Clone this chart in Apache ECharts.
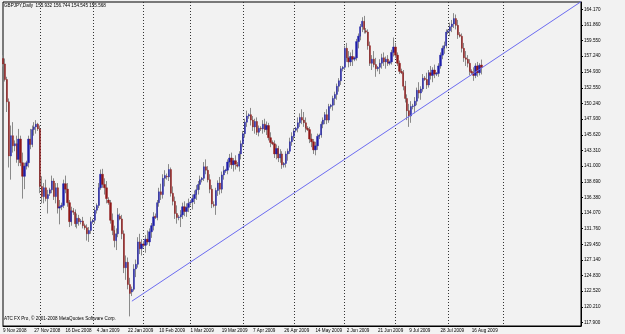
<!DOCTYPE html>
<html><head><meta charset="utf-8">
<script src="https://cdn.jsdelivr.net/npm/echarts@6/dist/echarts.min.js"></script>
<style>html,body{margin:0;padding:0;background:#f2f2f2}#c{width:625px;height:334px}</style>
</head><body><div id="c"></div><script>
// ---- texts ----
const headerText = 'GBPJPY,Daily  155.932 156.744 154.545 155.568';
const footerText = 'ATC FX Pro, \u00a9 2001-2008 MetaQuotes Software Corp.';
const tickLabels = ['9 Nov 2008','27 Nov 2008','16 Dec 2008','4 Jan 2009','22 Jan 2009','10 Feb 2009','1 Mar 2009','19 Mar 2009','7 Apr 2009','26 Apr 2009','14 May 2009','2 Jun 2009','21 Jun 2009','9 Jul 2009','28 Jul 2009','16 Aug 2009'];
const priceLabels = ['117.900','120.210','122.520','124.830','127.140','129.450','131.760','134.070','136.380','138.690','141.000','143.310','145.620','147.930','150.240','152.550','154.930','157.240','159.550','161.860','164.170'];
const lastPrice = 155.568;
// trend line anchors [date, price]
const trendStart = ['25 Jan 2009', 121.05];
const trendEnd = ['11 Oct 2009', 165.3];
// ---- daily bars [open, high, low, close], Sun-Fri sessions ----
const nov08 = [[156.9,157.4,155.7,156.1],[156.1,156.9,153.5,153.8],[153.8,154.2,149.0,150.5],[150.5,151.0,140.8,142.5],[142.5,147.0,139.0,145.5],[145.5,147.5,143.0,144.0],[144.0,144.8,143.2,144.3],[144.3,145.5,141.5,142.0],[142.0,146.5,141.0,145.0],[145.0,145.5,141.0,141.5],[141.5,143.0,136.2,139.5],[139.5,141.5,137.6,141.0],[141.0,141.8,140.5,141.5],[141.5,145.5,140.8,145.0],[145.0,146.5,143.5,144.2],[144.2,147.0,143.8,146.4],[146.4,147.5,145.5,146.8],[146.8,147.8,145.8,147.2],[147.2,147.4,146.2,146.5]];
const dec08 = [[146.5,147.0,137.0,138.0],[138.0,139.5,135.5,136.5],[136.5,138.5,135.5,137.8],[137.8,139.0,135.8,136.2],[136.2,137.5,134.0,136.8],[137.0,137.8,136.6,137.5],[137.5,139.6,137.0,138.8],[138.8,139.2,136.0,136.5],[136.5,138.5,135.5,137.8],[137.8,138.5,134.0,134.8],[134.8,136.0,132.4,135.0],[135.0,135.6,134.5,135.2],[135.2,139.0,134.8,138.4],[138.4,139.6,137.0,137.6],[137.6,138.5,135.0,135.6],[135.6,136.0,132.0,132.8],[132.8,135.0,132.2,134.4],[134.4,134.8,133.8,134.2],[134.2,134.6,132.0,132.5],[132.5,134.0,131.8,133.3],[133.3,133.8,132.2,132.8],[132.8,133.2,132.4,132.9],[132.9,133.5,131.8,132.2],[132.2,132.5,131.6,131.9],[131.9,132.4,130.0,131.0],[131.0,132.0,129.8,131.5],[131.5,133.5,131.0,132.8]];
const jan09 = [[132.8,133.2,132.5,133.0],[133.0,135.0,132.5,134.5],[134.5,135.5,134.0,135.2],[135.2,138.5,134.8,137.8],[137.8,140.5,137.5,139.8],[139.8,140.6,137.8,138.3],[138.3,139.2,136.8,137.8],[137.8,138.8,135.5,136.2],[136.0,136.4,135.3,135.6],[135.6,136.0,132.5,133.0],[133.0,134.0,130.8,131.5],[131.5,132.2,129.0,130.0],[130.0,131.8,128.6,131.0],[131.0,134.8,130.5,133.8],[133.6,134.0,133.0,133.2],[133.2,133.8,130.2,131.0],[131.0,131.5,125.2,126.0],[126.0,127.8,124.2,126.8],[126.8,127.5,122.8,123.5],[123.5,124.5,118.8,122.2],[122.4,123.2,121.8,122.8],[122.8,126.5,122.5,125.8],[125.8,127.2,124.6,126.5],[126.5,130.5,126.0,129.8],[129.8,131.0,128.0,128.8],[128.8,130.2,127.8,129.5]];
const feb09 = [[129.5,129.9,129.0,129.3],[129.3,130.8,128.2,130.2],[130.2,131.5,129.4,129.8],[129.8,131.8,129.2,131.3],[131.3,132.6,130.4,132.2],[132.2,134.2,131.5,133.5],[133.6,134.0,133.2,133.4],[133.4,136.0,133.0,135.6],[135.6,137.8,135.0,137.2],[137.2,138.4,136.0,136.8],[136.8,139.8,136.2,139.2],[139.2,140.4,138.0,139.6],[139.5,139.9,139.0,139.4],[139.4,141.3,138.8,140.5],[140.5,140.8,136.5,137.0],[137.0,138.0,135.2,135.8],[135.8,136.5,133.2,134.0],[134.0,135.2,132.5,133.4],[133.4,133.8,133.0,133.5],[133.5,134.5,132.0,133.8],[133.8,135.6,133.2,135.0],[135.0,135.8,133.6,134.3],[134.3,135.5,133.5,134.9],[134.9,136.2,134.2,135.5]];
const mar09 = [[135.6,136.0,135.2,135.7],[135.7,136.8,134.6,136.2],[136.2,137.4,135.4,136.8],[136.8,138.2,136.0,137.5],[137.5,138.8,136.8,138.3],[138.3,139.6,137.5,139.0],[139.0,139.4,138.6,139.2],[139.2,141.6,138.8,140.9],[140.9,142.0,139.8,140.4],[140.4,141.0,138.6,139.0],[139.0,139.8,137.0,137.6],[137.6,138.2,134.8,135.4],[135.3,135.8,134.9,135.2],[135.2,137.8,133.8,137.4],[137.4,138.9,136.6,138.5],[138.5,139.4,136.8,137.6],[137.6,140.2,137.0,139.7],[139.7,141.0,139.0,140.3],[140.3,140.6,140.0,140.4],[140.4,142.0,139.8,141.6],[141.6,142.8,140.8,142.2],[142.2,143.0,140.6,141.2],[141.2,142.2,140.2,141.8],[141.8,142.6,140.5,141.3],[141.2,141.6,140.8,141.0],[141.0,143.2,140.2,142.8],[142.8,144.8,142.0,144.3]];
const apr09 = [[144.3,146.2,143.8,145.8],[145.8,148.0,145.2,147.5],[147.5,149.2,146.8,148.4],[148.4,148.8,148.0,148.6],[148.6,149.6,147.0,147.8],[147.8,148.4,146.2,146.8],[146.8,148.0,145.8,147.6],[147.6,148.2,145.6,146.0],[146.0,147.0,145.4,146.6],[146.6,146.9,146.2,146.5],[146.5,147.8,145.8,147.2],[147.2,148.0,146.0,146.4],[146.4,147.6,145.6,147.0],[147.0,147.4,144.8,145.2],[145.2,146.0,143.8,144.5],[144.5,144.8,144.1,144.3],[144.3,144.8,142.2,142.8],[142.8,144.2,142.0,143.6],[143.6,144.0,141.6,142.2],[142.2,143.5,141.5,142.8],[142.8,143.2,140.6,141.2],[141.2,141.6,140.8,141.4],[141.4,143.2,140.8,142.8],[142.8,143.6,141.8,143.2],[143.2,145.2,142.8,144.6],[144.6,146.0,144.0,145.4]];
const may09 = [[145.4,146.6,144.8,146.2],[146.3,146.8,146.0,146.6],[146.6,148.2,146.0,147.4],[147.4,148.8,146.8,148.2],[148.2,149.4,147.2,147.8],[147.8,149.0,146.8,147.4],[147.4,148.2,146.0,146.6],[146.6,146.9,146.2,146.4],[146.4,146.8,144.4,145.0],[145.0,145.8,143.8,144.6],[144.6,145.0,142.8,143.4],[143.4,144.6,142.6,144.0],[144.0,145.8,143.4,145.4],[145.4,145.8,145.0,145.6],[145.6,147.6,145.2,147.2],[147.2,148.2,146.6,147.8],[147.8,149.0,147.2,148.6],[148.6,149.4,147.2,147.8],[147.8,150.2,147.4,149.8],[149.8,150.2,149.5,150.0],[150.0,151.4,149.2,151.0],[151.0,152.0,150.0,151.6],[151.6,153.2,150.8,152.8],[152.8,154.0,152.0,153.6],[153.6,155.8,153.0,155.4],[155.4,155.8,155.0,155.6]];
const jun09 = [[155.6,158.8,155.2,158.4],[158.4,159.2,156.4,157.0],[157.0,158.0,155.6,156.4],[156.4,157.8,155.8,157.2],[157.2,158.2,155.8,156.8],[156.8,157.2,156.5,157.0],[157.0,159.8,156.6,159.4],[159.4,160.6,158.4,160.2],[160.2,162.0,159.6,161.6],[161.6,163.0,160.8,162.4],[162.4,163.2,160.6,161.2],[161.0,161.4,160.6,160.8],[160.8,161.2,158.2,158.8],[158.8,159.4,155.8,156.2],[156.2,157.4,155.2,156.8],[156.8,158.0,155.6,156.0],[156.0,157.0,154.2,155.4],[155.4,155.8,155.0,155.6],[155.6,156.8,154.6,156.2],[156.2,157.6,155.4,157.0],[157.0,157.8,155.8,156.4],[156.4,157.2,155.4,156.8],[156.8,157.4,155.8,156.2],[156.2,156.6,155.9,156.4],[156.4,158.2,156.0,157.8],[157.8,160.0,157.2,158.6]];
const jul09 = [[158.6,159.2,157.0,157.4],[157.4,157.8,155.8,156.2],[156.2,156.6,154.6,155.0],[155.0,155.4,154.6,154.8],[154.8,155.2,152.2,152.8],[152.8,153.6,150.4,151.0],[151.0,151.6,147.8,149.2],[149.2,150.2,146.8,148.4],[148.4,150.6,147.4,149.8],[149.8,150.2,149.4,149.9],[149.9,151.2,148.8,150.6],[150.6,152.6,150.0,152.2],[152.2,153.4,151.0,151.8],[151.8,152.8,150.8,152.4],[152.4,154.6,152.0,154.0],[154.0,154.3,153.6,153.8],[153.8,154.8,152.4,153.0],[153.0,155.2,152.6,154.8],[154.8,155.8,153.8,154.4],[154.4,155.6,153.4,155.2],[155.2,156.0,154.0,154.6],[154.6,154.9,154.3,154.7],[154.7,156.2,154.2,155.8],[155.8,157.8,155.4,157.4],[157.4,158.8,156.8,158.4],[158.4,159.4,157.6,158.8],[158.8,161.2,158.4,160.8]];
const aug09 = [[160.8,161.2,160.5,161.0],[161.0,162.2,160.2,161.6],[161.6,162.6,160.8,162.0],[162.0,163.6,161.4,162.8],[162.8,163.4,161.2,161.8],[161.8,162.6,159.8,160.4],[160.4,160.8,160.0,160.2],[160.2,160.6,157.8,158.4],[158.4,159.2,156.4,157.0],[157.0,158.0,155.8,156.8],[156.8,157.4,155.6,156.2],[156.2,156.8,154.4,155.0],[155.0,155.3,154.6,154.8],[154.8,155.6,153.6,154.4],[154.4,156.2,154.0,155.8],[155.8,156.4,154.2,154.8],[154.8,156.2,154.4,155.9],[155.932,156.744,154.545,155.568]];

// ---- build ----
const MONTHS = ['Jan','Feb','Mar','Apr','May','Jun','Jul','Aug','Sep','Oct','Nov','Dec'];
const fmtDate = t => { const d = new Date(t); return d.getUTCDate() + ' ' + MONTHS[d.getUTCMonth()] + ' ' + d.getUTCFullYear(); };
const bars = [].concat(nov08, dec08, jan09, feb09, mar09, apr09, may09, jun09, jul09, aug09);
const VISIBLE = 297;
const FUTURE_SEPARATORS = 1;
const cats = [], catMonth = [];
let t = Date.UTC(2008, 10, 9);
while (cats.length < VISIBLE) {
  const d = new Date(t);
  if (cats.length >= bars.length || d.getUTCDay() !== 6) { cats.push(fmtDate(t)); catMonth.push(d.getUTCMonth()); }
  t += 86400000;
}
const sepIdx = [];
let futureSeen = 0;
for (let i = 1; i < cats.length; i++) {
  if (catMonth[i] !== catMonth[i - 1]) {
    if (i >= bars.length) { if (futureSeen >= FUTURE_SEPARATORS) continue; futureSeen++; }
    sepIdx.push(i);
  }
}
const wickData = bars.map(r => [r[0], r[3], r[2], r[1]]);
const bodyData = bars.map(r => [r[0], r[3], Math.min(r[0], r[3]), Math.max(r[0], r[3])]);

const FONT = 'Liberation Sans';
const chart = echarts.init(document.getElementById('c'), null, {renderer: 'canvas'});
chart.setOption({
  animation: false,
  backgroundColor: '#f2f2f2',
  grid: {left: 2, right: 44, top: 2, bottom: 8, show: true, borderColor: '#000', borderWidth: 1, backgroundColor: 'transparent'},
  xAxis: {
    type: 'category', data: cats, boundaryGap: false,
    axisLine: {lineStyle: {color: '#000', width: 1}},
    axisTick: {show: false},
    axisLabel: {interval: (i, v) => tickLabels.indexOf(v) >= 0, align: 'left', margin: 2, fontSize: 4.6, fontFamily: FONT, color: '#000'},
    splitLine: {show: true, interval: (i) => sepIdx.indexOf(i) >= 0, lineStyle: {color: '#333', type: [1, 2], width: 1}}
  },
  yAxis: {
    type: 'value', position: 'right', min: 117.38, max: 165.25, scale: true,
    axisLine: {show: true, lineStyle: {color: '#000', width: 1}},
    axisTick: {show: true, length: 2, lineStyle: {color: '#000'}, customValues: priceLabels.map(Number)},
    axisLabel: {margin: 3, fontSize: 4.6, fontFamily: FONT, color: '#000', customValues: priceLabels.map(Number),
      formatter: v => { const s = v.toFixed(3); return priceLabels.indexOf(s) >= 0 ? s : ''; }},
    splitLine: {show: false}
  },
  graphic: [
    {type: 'text', left: 4, top: 3, style: {text: headerText, font: '4.6px "' + FONT + '"', fill: '#000'}},
    {type: 'text', left: 4, top: 316, style: {text: footerText, font: '4.6px "' + FONT + '"', fill: '#000'}}
  ],
  series: [
    {type: 'candlestick', name: 'wick', data: wickData, barWidth: 1,
      itemStyle: {color: '#8a8a8a', color0: '#8a8a8a', borderColor: '#8a8a8a', borderColor0: '#8a8a8a', borderWidth: 1}},
    {type: 'candlestick', name: 'body', data: bodyData, barWidth: 1.8,
      itemStyle: {color: '#1e1ea8', color0: '#8e1717', borderColor: '#1e1ea8', borderColor0: '#8e1717', borderWidth: 0.4},
      markLine: {silent: true, symbol: 'none', data: [{yAxis: lastPrice}], lineStyle: {opacity: 0},
        label: {show: true, position: 'end', distance: 1, formatter: () => lastPrice.toFixed(3), backgroundColor: '#000', color: '#fff', fontSize: 4.6, fontFamily: FONT, padding: [1, 2, 0, 2]}}},
    {type: 'line', name: 'trend', data: [trendStart, trendEnd], symbol: 'none', lineStyle: {color: '#6b6bf0', width: 1}}
  ]
});
</script></body></html>
